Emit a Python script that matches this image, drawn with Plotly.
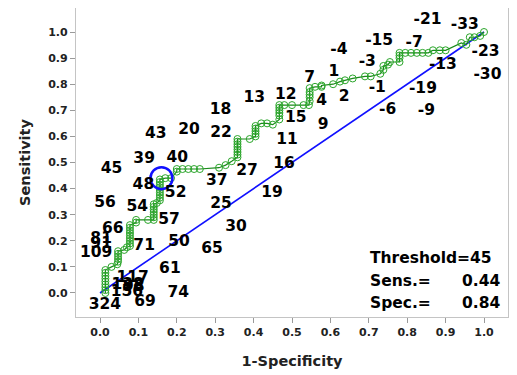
import plotly.graph_objects as go

# ROC curve points (1-Specificity, Sensitivity)
fpr = [0.014, 0.014, 0.014, 0.014, 0.014, 0.014, 0.014, 0.014, 0.014,
       0.030, 0.045, 0.047, 0.047, 0.047, 0.047, 0.047,
       0.063, 0.070, 0.078, 0.078, 0.078, 0.078, 0.078, 0.078, 0.078, 0.078, 0.078,
       0.094, 0.094, 0.125, 0.140, 0.140, 0.140, 0.140, 0.140, 0.140, 0.140,
       0.148, 0.156, 0.156, 0.156, 0.156, 0.156, 0.156, 0.156, 0.156, 0.156,
       0.170, 0.185, 0.200, 0.200, 0.215, 0.230, 0.245, 0.260,
       0.310, 0.327, 0.343, 0.358, 0.358, 0.358, 0.358, 0.358, 0.358, 0.358, 0.358,
       0.390, 0.405, 0.405, 0.405, 0.405, 0.405, 0.420, 0.435, 0.450,
       0.467, 0.467, 0.467, 0.467, 0.467, 0.467, 0.480, 0.500, 0.530,
       0.544, 0.546, 0.546, 0.546, 0.546, 0.546, 0.560, 0.577, 0.577,
       0.607, 0.625, 0.638, 0.658, 0.690, 0.705, 0.730, 0.738, 0.738,
       0.750, 0.755, 0.780, 0.780, 0.780, 0.780, 0.795, 0.810, 0.825, 0.840, 0.855,
       0.867, 0.885, 0.900, 0.941, 0.954, 0.963, 0.975, 0.990, 1.000]
tpr = [0.000, 0.011, 0.022, 0.033, 0.044, 0.055, 0.066, 0.077, 0.088,
       0.100, 0.110, 0.120, 0.130, 0.140, 0.150, 0.160,
       0.165, 0.175, 0.180, 0.190, 0.200, 0.210, 0.220, 0.230, 0.240, 0.250, 0.260,
       0.270, 0.280, 0.280, 0.280, 0.290, 0.300, 0.310, 0.320, 0.330, 0.340,
       0.345, 0.355, 0.365, 0.375, 0.385, 0.395, 0.405, 0.415, 0.425, 0.435,
       0.440, 0.440, 0.465, 0.475, 0.475, 0.475, 0.475, 0.475,
       0.480, 0.490, 0.505, 0.520, 0.530, 0.540, 0.550, 0.560, 0.570, 0.580, 0.590,
       0.590, 0.600, 0.610, 0.620, 0.630, 0.640, 0.650, 0.650, 0.645,
       0.665, 0.680, 0.690, 0.700, 0.710, 0.720, 0.720, 0.720, 0.720,
       0.720, 0.735, 0.750, 0.760, 0.770, 0.785, 0.790, 0.790, 0.795,
       0.800, 0.810, 0.815, 0.822, 0.830, 0.830, 0.840, 0.855, 0.870,
       0.875, 0.885, 0.885, 0.900, 0.910, 0.920, 0.920, 0.920, 0.920, 0.920, 0.920,
       0.930, 0.930, 0.930, 0.958, 0.951, 0.980, 0.980, 0.985, 1.000]

# Threshold labels
labels = ["-21", "-33", "-15", "-7", "-4", "-3", "-13", "-23", "-30",
          "7", "1", "-1", "-19", "2", "-6", "-9", "13", "12", "4", "18",
          "15", "9", "43", "20", "22", "11", "39", "40", "45", "16", "27",
          "37", "48", "52", "19", "56", "54", "25", "57", "30", "66", "81",
          "91", "109", "71", "50", "65", "61", "117", "138", "98", "156",
          "324", "69", "74"]
label_x = [0.853, 0.950, 0.727, 0.818, 0.622, 0.696, 0.893, 1.004, 1.009,
           0.546, 0.609, 0.722, 0.841, 0.636, 0.749, 0.850, 0.402, 0.484, 0.577, 0.314,
           0.510, 0.581, 0.145, 0.232, 0.315, 0.487, 0.115, 0.201, 0.030, 0.479, 0.383,
           0.304, 0.113, 0.197, 0.448, 0.013, 0.097, 0.315, 0.180, 0.354, 0.033, 0.003,
           0.003, -0.010, 0.115, 0.206, 0.292, 0.182, 0.085, 0.072, 0.088, 0.070,
           0.013, 0.117, 0.204]
label_y = [1.045, 1.028, 0.964, 0.958, 0.932, 0.884, 0.872, 0.922, 0.833,
           0.824, 0.845, 0.785, 0.783, 0.750, 0.700, 0.696, 0.747, 0.760, 0.734, 0.702,
           0.670, 0.642, 0.607, 0.623, 0.613, 0.584, 0.513, 0.517, 0.475, 0.494, 0.466,
           0.430, 0.415, 0.383, 0.383, 0.345, 0.328, 0.342, 0.281, 0.253, 0.245, 0.207,
           0.188, 0.151, 0.181, 0.194, 0.169, 0.092, 0.057, 0.030, 0.024, 0.004,
           -0.045, -0.036, 0.000]

# Selected threshold
sel_threshold = 45
sel_sens = 0.44
sel_spec = 0.84

fig = go.Figure()

fig.add_trace(go.Scatter(x=[0, 1], y=[0, 1], mode="lines",
                         line=dict(color="#1010ff", width=1.6),
                         hoverinfo="skip", showlegend=False))

fig.add_trace(go.Scatter(x=fpr, y=tpr, mode="lines+markers",
                         line=dict(color="#1a8a1a", width=1.2),
                         marker=dict(symbol="circle-open", size=7,
                                     color="#2aa52a", line=dict(width=1)),
                         showlegend=False))

fig.add_trace(go.Scatter(x=[1 - sel_spec], y=[sel_sens], mode="markers",
                         marker=dict(symbol="circle-open", size=22,
                                     color="#1010ff", line=dict(width=2.5)),
                         showlegend=False))

fig.add_trace(go.Scatter(x=label_x, y=label_y, mode="text", text=labels,
                         textfont=dict(family="DejaVu Sans", size=15.5,
                                       color="black", weight="bold"),
                         showlegend=False, hoverinfo="skip"))

inset_font = dict(family="DejaVu Sans", size=15.5, color="black", weight="bold")
fig.add_annotation(x=0.697, y=0.135, xref="x", yref="y", text=f"Threshold={sel_threshold}",
                   showarrow=False, xanchor="left", font=inset_font)
fig.add_annotation(x=0.697, y=0.047, xref="x", yref="y", text="Sens.=",
                   showarrow=False, xanchor="left", font=inset_font)
fig.add_annotation(x=1.046, y=0.047, xref="x", yref="y", text=f"{sel_sens:.2f}",
                   showarrow=False, xanchor="right", font=inset_font)
fig.add_annotation(x=0.697, y=-0.037, xref="x", yref="y", text="Spec.=",
                   showarrow=False, xanchor="left", font=inset_font)
fig.add_annotation(x=1.046, y=-0.037, xref="x", yref="y", text=f"{sel_spec:.2f}",
                   showarrow=False, xanchor="right", font=inset_font)

tick_vals = [i / 10 for i in range(11)]
tick_text = [f"{v:.1f}" for v in tick_vals]
axis_common = dict(showgrid=False, zeroline=False, showline=True, mirror=True,
                   linecolor="#c4c4c4", linewidth=1.2, ticks="outside",
                   ticklen=5, tickcolor="#9a9a9a",
                   tickfont=dict(family="DejaVu Sans", size=11, color="#222",
                                 weight="bold"),
                   tickvals=tick_vals, ticktext=tick_text)

fig.update_layout(
    width=509, height=367,
    margin=dict(l=68, r=9, t=0, b=58),
    paper_bgcolor="white", plot_bgcolor="white",
    xaxis=dict(range=[-0.0625, 1.0625],
               title=dict(text="1-Specificity", standoff=17,
                          font=dict(family="DejaVu Sans", size=14.5, color="#222",
                                    weight="bold")),
               **axis_common),
    yaxis=dict(range=[-0.092, 1.092],
               title=dict(text="Sensitivity", standoff=14,
                          font=dict(family="DejaVu Sans", size=14.5, color="#222",
                                    weight="bold")),
               **axis_common),
)

fig.write_html("out.html")
